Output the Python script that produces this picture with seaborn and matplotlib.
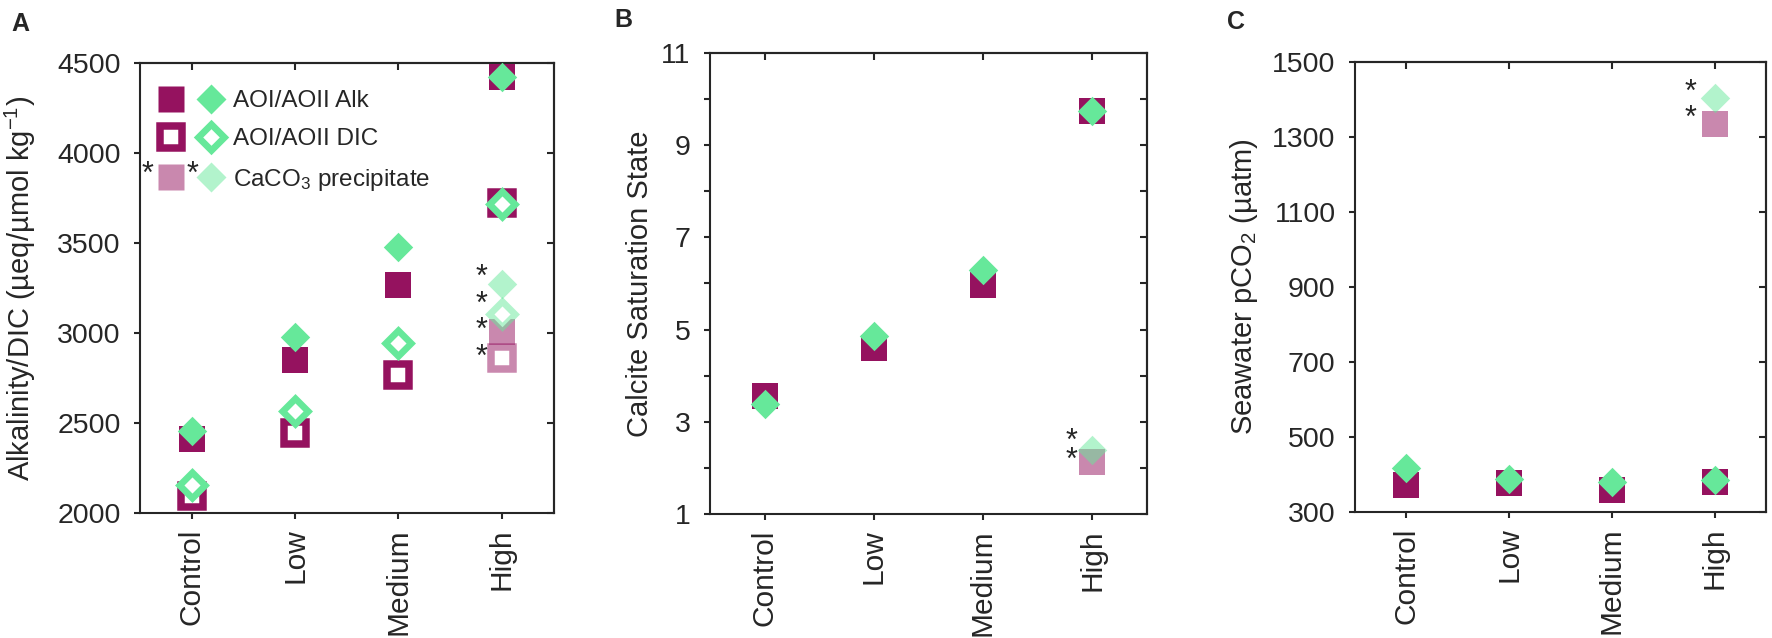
import matplotlib
matplotlib.use("Agg")
import matplotlib.pyplot as plt
import seaborn as sns
from matplotlib.colors import to_rgba
from matplotlib.lines import Line2D
from matplotlib.legend_handler import HandlerTuple

categories = ['Control', 'Low', 'Medium', 'High']
caco3_cat = ['High']

# A: alkalinity and DIC (ueq / umol per kg)
aoi_alk = [2410, 2847, 3264, 4420]
aoii_alk = [2456, 2980, 3477, 4420]
aoi_dic = [2095, 2445, 2768, 3723]
aoii_dic = [2153, 2565, 2942, 3716]
caco3_aoi_alk = [3005]
caco3_aoii_alk = [3271]
caco3_aoi_dic = [2863]
caco3_aoii_dic = [3106]

# B: calcite saturation state
aoi_omega = [3.56, 4.61, 5.96, 9.75]
aoii_omega = [3.38, 4.87, 6.29, 9.75]
caco3_aoi_omega = [2.12]
caco3_aoii_omega = [2.39]

# C: seawater pCO2 (uatm)
aoi_pco2 = [372, 378, 359, 381]
aoii_pco2 = [416, 387, 381, 384]
caco3_aoi_pco2 = [1335]
caco3_aoii_pco2 = [1405]

ticks_a = [2000, 2500, 3000, 3500, 4000, 4500]
ticks_b = [1, 2, 3, 4, 5, 6, 7, 8, 9, 10, 11]
labels_b = ['1', '', '3', '', '5', '', '7', '', '9', '', '11']
ticks_c = [300, 500, 700, 900, 1100, 1300, 1500]

PLUM = '#95125F'
MINT = '#66E89A'
PLUM_L = to_rgba(PLUM, 0.5)
MINT_L = to_rgba(MINT, 0.5)

sns.set_style('ticks')
plt.rcParams['font.family'] = ['Liberation Sans', 'DejaVu Sans']
plt.rcParams['mathtext.fontset'] = 'custom'
plt.rcParams['mathtext.rm'] = 'Liberation Sans'
plt.rcParams['mathtext.default'] = 'regular'
plt.rcParams['axes.linewidth'] = 1.5

YTICK_FS = 20.5
XTICK_FS = 21.5
LABEL_FS = 21


def dots(ax, x, y, marker, color, hollow=False):
    if marker == 's':
        size, lw = (262, 5.4) if hollow else (376, 0)
    else:
        size, lw = (169, 4.8) if hollow else (225, 0)
    sns.scatterplot(x=x, y=y, marker=marker, s=size, color=color,
                    facecolor='white' if hollow else color, edgecolor=color,
                    linewidth=lw, joinstyle='miter', legend=False, ax=ax,
                    zorder=3, clip_on=False)


def stars(ax, lowest, n, dx, dy, spacing):
    # stacked significance asterisks, anchored on the lowest CaCO3 point
    ax.annotate('\n'.join(['*'] * n), xy=(categories.index('High'), lowest),
                xytext=(dx, dy), textcoords='offset points', ha='center',
                va='baseline', fontsize=22, linespacing=spacing)


def frame(ax, yticks, ylim, ylabel, label_x, ylabels=None):
    ax.set_xlim(-0.5, 3.5)
    ax.set_ylim(*ylim)
    ax.set_yticks(yticks)
    ax.set_yticklabels(ylabels if ylabels else [str(t) for t in yticks])
    ax.set_xticks(range(len(categories)))
    ax.set_xticklabels(categories, rotation=90)
    ax.tick_params(direction='out', length=4.5, width=1.5)
    ax.tick_params(axis='y', pad=9.5, labelsize=YTICK_FS)
    ax.tick_params(axis='x', pad=6.5, labelsize=XTICK_FS)
    ax.set_xlabel('')
    ax.set_ylabel(ylabel, fontsize=LABEL_FS, va='center')
    ax.yaxis.set_label_coords(label_x, 0.5)
    right = ax.secondary_yaxis('right')
    right.set_yticks(yticks)
    right.tick_params(direction='in', length=5, width=1.5, labelright=False)
    top = ax.secondary_xaxis('top')
    top.set_xticks(range(len(categories)))
    top.tick_params(direction='in', length=5, width=1.5, labeltop=False)
    for s in ax.spines.values():
        s.set_visible(True)
        s.set_linewidth(1.5)


fig = plt.figure(figsize=(17.72, 6.38), dpi=100)
axA = fig.add_axes([0.079, 0.196, 0.2334, 0.7053])
axB = fig.add_axes([0.4007, 0.1944, 0.2464, 0.7226])
axC = fig.add_axes([0.7647, 0.1975, 0.2319, 0.7053])

# panel A
dots(axA, categories, aoi_alk, 's', PLUM)
dots(axA, categories, aoi_dic, 's', PLUM, hollow=True)
dots(axA, categories, aoii_alk, 'D', MINT)
dots(axA, categories, aoii_dic, 'D', MINT, hollow=True)
dots(axA, caco3_cat, caco3_aoi_alk, 's', PLUM_L)
dots(axA, caco3_cat, caco3_aoi_dic, 's', PLUM_L, hollow=True)
dots(axA, caco3_cat, caco3_aoii_alk, 'D', MINT_L)
dots(axA, caco3_cat, caco3_aoii_dic, 'D', MINT_L, hollow=True)
stars(axA, caco3_aoi_dic[0], 4, -15, -6, 0.85)
frame(axA, ticks_a, (2000, 4500), 'Alkalinity/DIC (µeq/µmol kg$^{-1}$)', -0.29)

h_alk = (Line2D([], [], ls='none', marker='s', ms=19.4, mfc=PLUM, mec='none'),
         Line2D([], [], ls='none', marker='D', ms=15, mfc=MINT, mec='none'))
h_dic = (Line2D([], [], ls='none', marker='s', ms=16.2, mfc='white', mec=PLUM, mew=5.4),
         Line2D([], [], ls='none', marker='D', ms=13, mfc='white', mec=MINT, mew=4.8))
h_ca = (Line2D([], [], ls='none', marker='s', ms=19.4, mfc=PLUM_L, mec='none'),
        Line2D([], [], ls='none', marker='D', ms=15, mfc=MINT_L, mec='none'))
axA.legend([h_alk, h_dic, h_ca],
           ['AOI/AOII Alk', 'AOI/AOII DIC', 'CaCO$_3$ precipitate'],
           handler_map={tuple: HandlerTuple(ndivide=None, pad=0)},
           loc='upper left', bbox_to_anchor=(0.025, 0.939), frameon=False,
           borderpad=0, borderaxespad=0, handlelength=3.35, handletextpad=0.05,
           labelspacing=0.66, fontsize=17.5)
axA.text(0.019, 0.733, '*', transform=axA.transAxes, ha='center', va='baseline', fontsize=22)
axA.text(0.128, 0.733, '*', transform=axA.transAxes, ha='center', va='baseline', fontsize=22)

# panel B
dots(axB, categories, aoi_omega, 's', PLUM)
dots(axB, categories, aoii_omega, 'D', MINT)
dots(axB, caco3_cat, caco3_aoi_omega, 's', PLUM_L)
dots(axB, caco3_cat, caco3_aoii_omega, 'D', MINT_L)
stars(axB, caco3_aoi_omega[0], 2, -15, -5, 0.55)
frame(axB, ticks_b, (1, 11), 'Calcite Saturation State', -0.16, labels_b)

# panel C
dots(axC, categories, aoi_pco2, 's', PLUM)
dots(axC, categories, aoii_pco2, 'D', MINT)
dots(axC, caco3_cat, caco3_aoi_pco2, 's', PLUM_L)
dots(axC, caco3_cat, caco3_aoii_pco2, 'D', MINT_L)
stars(axC, caco3_aoi_pco2[0], 2, -17, -2, 0.83)
frame(axC, ticks_c, (300, 1500), 'Seawater pCO$_2$ (µatm)', -0.27)

fig.text(20 / 1772, 1 - 24 / 638, 'A', ha='center', va='center', fontsize=18, weight='bold')
fig.text(623 / 1772, 1 - 20 / 638, 'B', ha='center', va='center', fontsize=18, weight='bold')
fig.text(1236 / 1772, 1 - 22 / 638, 'C', ha='center', va='center', fontsize=18, weight='bold')

fig.savefig('out.png', dpi=100)
